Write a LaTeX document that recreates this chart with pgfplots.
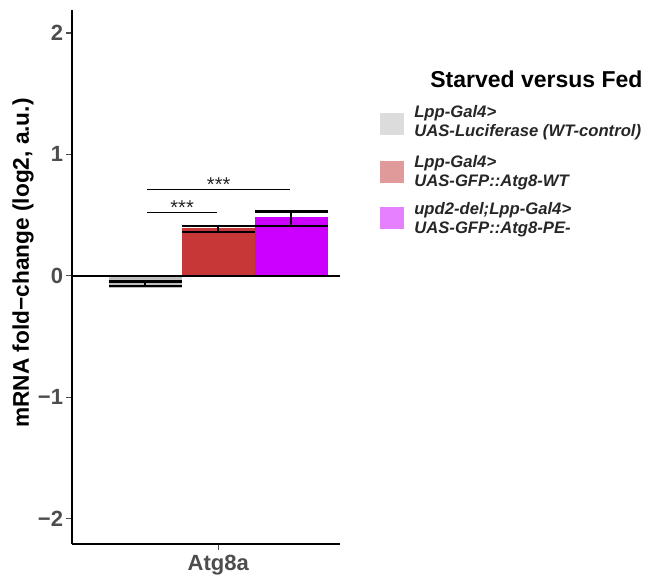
\documentclass[border=0pt]{standalone}
\usepackage{fontspec}
\setmainfont{Liberation Sans}
\usepackage{pgfplots}
\pgfplotsset{compat=1.18}
\definecolor{tickgray}{HTML}{4D4D4D}
\definecolor{txtgray}{HTML}{262626}
\definecolor{bargray}{HTML}{BEBEBE}
\definecolor{barred}{HTML}{C83737}
\definecolor{barmag}{HTML}{CC00FF}
\definecolor{keygray}{HTML}{DCDCDC}
\definecolor{keyred}{HTML}{E09A9A}
\definecolor{keymag}{HTML}{E580FF}
\begin{document}
\begin{tikzpicture}
\path[use as bounding box] (0,0) rectangle (492pt,-435.75pt);
\begin{axis}[
  at={(54pt,-408pt)}, anchor=south west,
  scale only axis, width=201pt, height=400.5pt,
  xmin=0.4, xmax=1.5, ymin=-2.21, ymax=2.19,
  axis lines=left,
  axis line style={-, black, line width=1.3pt},
  ytick={-2,-1,0,1,2},
  yticklabels={−2,−1,0,1,2},
  xtick={1}, xticklabels={Atg8a},
  tick align=outside,
  major tick length=4.5pt,
  tick style={tickgray, line width=0.9pt},
  yticklabel style={font=\bfseries\fontsize{16.5}{18}\selectfont, text=tickgray, inner sep=2pt},
  xticklabel style={font=\bfseries\fontsize{16.5}{18}\selectfont, text=tickgray},
  clip=false,
  errstyle/.style={draw=none, mark=none, forget plot,
    error bars/.cd, y dir=both, y explicit,
    error bar style={line width=1.5pt, black},
    error mark options={rotate=90, mark size=27.4pt, line width=1.6pt, black}},
]
% bars (means)
\addplot[ybar, bar width=0.3, bar shift=0pt, fill=bargray, draw=none] coordinates {(0.7,-0.10)};
\addplot[ybar, bar width=0.3, bar shift=0pt, fill=barred, draw=none] coordinates {(1.0,0.393)};
\addplot[ybar, bar width=0.3, bar shift=0pt, fill=barmag, draw=none] coordinates {(1.3,0.484)};
% error bars
\addplot[errstyle] coordinates {(0.7,-0.066) +- (0,0.019)};
\addplot[errstyle] coordinates {(1.0,0.385) +- (0,0.027)};
\addplot[errstyle] coordinates {(1.3,0.471) +- (0,0.059)};
% zero line
\addplot[black, line width=1.3pt] coordinates {(0.4,0) (1.5,0)};
% significance
\addplot[black, line width=0.6pt] coordinates {(0.709,0.715) (1.295,0.715)};
\addplot[black, line width=0.6pt] coordinates {(0.708,0.525) (0.995,0.525)};
\node[anchor=base, inner sep=0pt, yshift=-2pt, text=txtgray, font=\fontsize{15}{18}\selectfont] at (axis cs:1.002,0.715) {***};
\node[anchor=base, inner sep=0pt, yshift=-2pt, text=txtgray, font=\fontsize{15}{18}\selectfont] at (axis cs:0.852,0.525) {***};
\end{axis}
% y label
\node[rotate=90, inner sep=0pt, font=\bfseries\fontsize{17}{20}\selectfont] at (17.25pt,-197.25pt) {mRNA fold−change (log2, a.u.)};
% legend
\node[anchor=base west, inner sep=0pt, font=\bfseries\fontsize{17.25}{20}\selectfont] at (322.5pt,-66pt) {Starved versus Fed};
\fill[keygray] (285pt,-84.5pt) rectangle (303pt,-101.25pt);
\fill[keyred] (285pt,-120.5pt) rectangle (303pt,-137pt);
\fill[keymag] (285pt,-155pt) rectangle (303pt,-171.5pt);
\begin{scope}[every node/.style={anchor=base west, inner sep=0pt, text=txtgray, font=\bfseries\itshape\fontsize{12.5}{14}\selectfont}]
\node at (310.5pt,-88pt) {Lpp-Gal4>};
\node at (310.5pt,-102.5pt) {UAS-Luciferase (WT-control)};
\node at (310.5pt,-125.5pt) {Lpp-Gal4>};
\node at (310.5pt,-140pt) {UAS-GFP::Atg8-WT};
\node at (310.5pt,-160.5pt) {upd2-del;Lpp-Gal4>};
\node at (310.5pt,-175.1pt) {UAS-GFP::Atg8-PE-};
\end{scope}
\end{tikzpicture}
\end{document}
